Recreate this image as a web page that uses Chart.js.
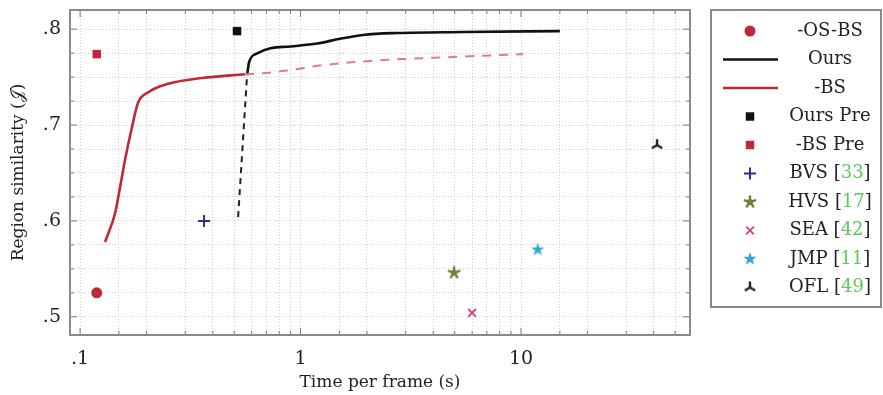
<!DOCTYPE html>
<html>
<head>
<meta charset="utf-8">
<script src="https://cdn.jsdelivr.net/npm/chart.js@4.4.4/dist/chart.umd.min.js"></script>
<style>
  html, body { margin: 0; padding: 0; background: #fff; }
  #wrap { width: 883px; height: 395px; position: relative; }
</style>
</head>
<body>
<div id="wrap"><canvas id="chart" width="883" height="395"></canvas></div>
<script>
/* ── Data ─────────────────────────────────────────────────────────── */
const OURS_T = [0.572, 0.585, 0.64, 0.73, 0.9, 1.19, 1.51, 1.92, 2.74, 5.46, 15.0];
const OURS_J = [0.752, 0.766, 0.775, 0.780, 0.782, 0.785, 0.790, 0.794, 0.796, 0.797, 0.798];
const OURS_DASH_T = [0.521, 0.572];
const OURS_DASH_J = [0.604, 0.752];

const BS_T = [0.1298, 0.1441, 0.1518, 0.160, 0.172, 0.183, 0.203, 0.251, 0.357, 0.560];
const BS_J = [0.578, 0.608, 0.635, 0.664, 0.698, 0.723, 0.734, 0.743, 0.749, 0.753];
const BS_DASH_T = [0.560, 0.676, 0.869, 1.32, 2.47, 3.04, 10.2];
const BS_DASH_J = [0.753, 0.754, 0.757, 0.763, 0.768, 0.769, 0.774];

const OSBS_T = [0.119],  OSBS_J = [0.525];
const OURS_PRE_T = [0.515], OURS_PRE_J = [0.798];
const BS_PRE_T = [0.119],  BS_PRE_J = [0.774];

const METHOD_NAMES = ["BVS", "HVS", "SEA", "JMP", "OFL"];
const METHOD_REFS  = ["33", "17", "42", "11", "49"];
const METHOD_T     = [0.365, 4.97, 6.0, 11.9, 41.4];
const METHOD_J     = [0.600, 0.546, 0.504, 0.570, 0.679];

const X_LABELS = { 0.1: ".1", 1: "1", 10: "10" };
const Y_LABELS = { 0.5: ".5", 0.6: ".6", 0.7: ".7", 0.8: ".8" };

const FONT = "'DejaVu Serif', 'Liberation Serif', serif";
const RED = "#c0283a";

/* ── Marker images ────────────────────────────────────────────────── */
function markerCanvas(size, draw) {
  const c = document.createElement("canvas");
  c.width = size; c.height = size;
  const g = c.getContext("2d");
  g.translate(size / 2, size / 2);
  draw(g);
  return c;
}
const STAR5 = markerCanvas(16, g => {
  g.fillStyle = "#35a8d8"; g.beginPath();
  for (let i = 0; i < 10; i++) {
    const r = i % 2 ? 2.8 : 7, a = -Math.PI / 2 + i * Math.PI / 5;
    g.lineTo(r * Math.cos(a), r * Math.sin(a));
  }
  g.closePath(); g.fill();
});
const ASTER5 = markerCanvas(16, g => {
  g.strokeStyle = "#7d7a3c"; g.lineWidth = 2.4; g.lineCap = "round";
  for (let i = 0; i < 5; i++) {
    const a = -Math.PI / 2 + i * 2 * Math.PI / 5;
    g.beginPath(); g.moveTo(0, 0); g.lineTo(5.5 * Math.cos(a), 5.5 * Math.sin(a)); g.stroke();
  }
  g.fillStyle = "#7d7a3c"; g.beginPath(); g.arc(0, 0, 3, 0, 2 * Math.PI); g.fill();
});
const TRI = markerCanvas(16, g => {
  g.strokeStyle = "#222"; g.lineWidth = 2.4;
  [-Math.PI / 2, Math.PI / 6, 5 * Math.PI / 6].forEach(a => {
    g.beginPath(); g.moveTo(0, 0); g.lineTo(6 * Math.cos(a), 6 * Math.sin(a)); g.stroke();
  });
});

const pts = (xs, ys) => xs.map((x, i) => ({ x, y: ys[i] }));

const METHOD_STYLE = [
  { pointStyle: "cross", radius: 6, color: "#2c2f8c", borderWidth: 2 },
  { pointStyle: ASTER5,  radius: 8, color: "#7d7a3c", borderWidth: 1 },
  { pointStyle: "crossRot", radius: 5.5, color: "#d2468c", borderWidth: 2 },
  { pointStyle: STAR5,   radius: 8, color: "#35a8d8", borderWidth: 1 },
  { pointStyle: TRI,     radius: 8, color: "#222", borderWidth: 1 }
];

function pointSet(label, xs, ys, st, legend) {
  return {
    type: "scatter", label, data: pts(xs, ys), legend: legend && Object.assign({ color: st.color, style: st }, legend),
    pointStyle: st.pointStyle, pointRadius: st.radius, pointHoverRadius: st.radius,
    backgroundColor: st.color, borderColor: st.color, pointBorderWidth: st.borderWidth
  };
}
function lineSet(label, xs, ys, color, width, dash, legend) {
  return {
    type: "line", label, data: pts(xs, ys), legend: legend && Object.assign({ color, width, line: true }, legend),
    borderColor: color, borderWidth: width, borderDash: dash || [],
    pointRadius: 0, cubicInterpolationMode: "monotone", fill: false
  };
}

const datasets = [
  lineSet("Ours dash", OURS_DASH_T, OURS_DASH_J, "#222", 2, [6, 5]),
  lineSet("-BS dash", BS_DASH_T, BS_DASH_J, "#e27a80", 2, [9, 8]),
  lineSet("-BS", BS_T, BS_J, RED, 2.6, null, { order: 2 }),
  lineSet("Ours", OURS_T, OURS_J, "#111", 2.6, null, { order: 1 }),
  pointSet("-OS-BS", OSBS_T, OSBS_J, { pointStyle: "circle", radius: 5.5, color: RED, borderWidth: 0 }, { order: 0 }),
  pointSet("Ours Pre", OURS_PRE_T, OURS_PRE_J, { pointStyle: "rect", radius: 6, color: "#111", borderWidth: 0 }, { order: 3 }),
  pointSet("-BS Pre", BS_PRE_T, BS_PRE_J, { pointStyle: "rect", radius: 6, color: RED, borderWidth: 0 }, { order: 4 })
];
METHOD_NAMES.forEach((n, i) => {
  datasets.push(pointSet(n, [METHOD_T[i]], [METHOD_J[i]], METHOD_STYLE[i], { order: 5 + i, ref: METHOD_REFS[i] }));
});

/* ── Plugins: inward ticks, frame, legend box ─────────────────────── */
const frameTicks = {
  id: "frameTicks",
  afterDraw(chart) {
    const { ctx, chartArea: a, scales: { x, y } } = chart;
    ctx.save();
    ctx.strokeStyle = "#777"; ctx.lineWidth = 1;
    x.ticks.forEach(t => {
      const px = x.getPixelForValue(t.value);
      if (px < a.left + 1 || px > a.right - 1) return;
      const len = X_LABELS[t.value] ? 7 : 4;
      ctx.beginPath();
      ctx.moveTo(px, a.bottom); ctx.lineTo(px, a.bottom - len);
      ctx.moveTo(px, a.top); ctx.lineTo(px, a.top + len);
      ctx.stroke();
    });
    y.ticks.forEach(t => {
      const py = y.getPixelForValue(t.value);
      const len = Y_LABELS[Math.round(t.value * 1000) / 1000] ? 7 : 4;
      ctx.beginPath();
      ctx.moveTo(a.left, py); ctx.lineTo(a.left + len, py);
      ctx.moveTo(a.right, py); ctx.lineTo(a.right - len, py);
      ctx.stroke();
    });
    ctx.strokeStyle = "#8a8a8a"; ctx.lineWidth = 2;
    ctx.strokeRect(a.left, a.top, a.right - a.left, a.bottom - a.top);
    ctx.restore();
  }
};

const boxLegend = {
  id: "boxLegend",
  afterDraw(chart) {
    const ctx = chart.ctx;
    const left = 711, top = 10, right = 881, bottom = 307, step = 28.5;
    ctx.save();
    ctx.strokeStyle = "#8a8a8a"; ctx.lineWidth = 2;
    ctx.strokeRect(left, top, right - left, bottom - top);
    const items = chart.data.datasets.filter(d => d.legend).sort((a, b) => a.legend.order - b.legend.order);
    items.forEach((d, i) => {
      const cy = top + 21 + i * step, lg = d.legend;
      ctx.save();
      ctx.setLineDash([]);
      if (lg.line) {
        ctx.strokeStyle = lg.color; ctx.lineWidth = lg.width;
        ctx.beginPath(); ctx.moveTo(723, cy); ctx.lineTo(778, cy); ctx.stroke();
      } else {
        ctx.fillStyle = lg.color; ctx.strokeStyle = lg.color; ctx.lineWidth = lg.style.borderWidth || 1;
        Chart.helpers.drawPoint(ctx, {
          pointStyle: lg.style.pointStyle, radius: Math.min(lg.style.radius, 6), rotation: 0,
          borderWidth: lg.style.borderWidth
        }, 750, cy);
      }
      ctx.restore();
      ctx.font = "18px " + FONT; ctx.textBaseline = "middle"; ctx.textAlign = "left";
      const parts = lg.ref ? [[d.label + " [", "#222"], [lg.ref, "#5cc85c"], ["]", "#222"]] : [[d.label, "#222"]];
      const w = parts.reduce((s, p) => s + ctx.measureText(p[0]).width, 0);
      let tx = 830 - w / 2;
      parts.forEach(([txt, col]) => { ctx.fillStyle = col; ctx.fillText(txt, tx, cy); tx += ctx.measureText(txt).width; });
    });
    ctx.restore();
  }
};

new Chart(document.getElementById("chart"), {
  data: { datasets },
  options: {
    responsive: false, animation: false, events: [],
    layout: { padding: { left: 0, right: 193, top: 10, bottom: 0 } },
    plugins: { legend: { display: false }, tooltip: { enabled: false } },
    scales: {
      x: {
        type: "logarithmic", min: 0.09, max: 58.4,
        afterFit: s => { s.height = 60; s.paddingLeft = 0; s.paddingRight = 0; },
        border: { display: false, dash: [1, 2] },
        grid: { color: "#cfcfcf", drawTicks: false, lineWidth: 1 },
        ticks: {
          autoSkip: false, maxRotation: 0, padding: 13, color: "#222",
          font: { family: FONT, size: 19 },
          callback: v => X_LABELS[v] || ""
        },
        title: { display: true, text: "Time per frame (s)", color: "#222", font: { family: FONT, size: 17 }, padding: { top: 0, bottom: 2 } }
      },
      y: {
        type: "linear", min: 0.481, max: 0.82,
        afterFit: s => { s.width = 70; s.paddingTop = 0; s.paddingBottom = 0; },
        border: { display: false, dash: [1, 2] },
        grid: { color: "#cfcfcf", drawTicks: false, lineWidth: 1 },
        ticks: {
          stepSize: 0.025, includeBounds: false, autoSkip: false, padding: 9, color: "#222",
          font: { family: FONT, size: 19 },
          callback: v => Y_LABELS[Math.round(v * 1000) / 1000] || ""
        },
        title: { display: true, text: "Region similarity (𝒥)", color: "#222", font: { family: FONT, size: 17 }, padding: { top: 8, bottom: 0 } }
      }
    }
  },
  plugins: [frameTicks, boxLegend]
});
</script>
</body>
</html>
